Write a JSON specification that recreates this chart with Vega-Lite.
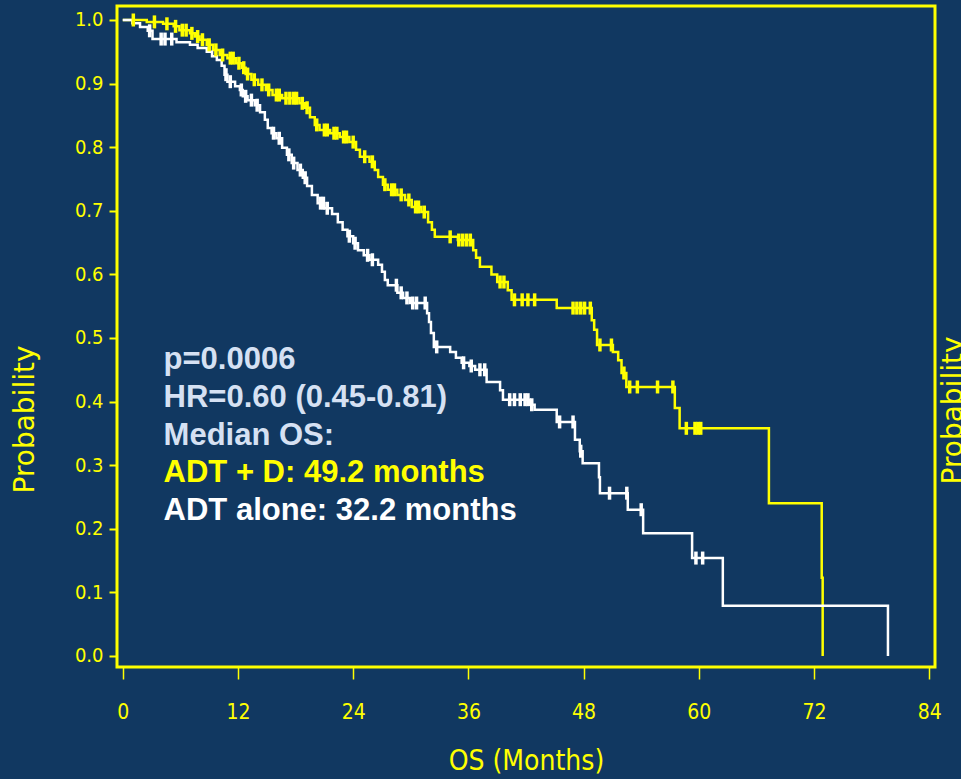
{
  "$schema": "https://vega.github.io/schema/vega-lite/v6.json",
  "width": 818,
  "height": 661,
  "autosize": {"type": "none"},
  "padding": {"left": 117, "top": 6, "right": 26, "bottom": 112},
  "background": "#113861",
  "config": {"view": {"stroke": "#ffff00", "strokeWidth": 3, "fill": "#113861"}},
  "datasets": {
    "km": [
      {"g":"ADT + D","t":0,"S":1.0,"c":0},
      {"g":"ADT + D","t":1.1,"S":1.0,"c":1},
      {"g":"ADT + D","t":2.5,"S":0.997,"c":0},
      {"g":"ADT + D","t":3.3,"S":0.997,"c":1},
      {"g":"ADT + D","t":4.2,"S":0.994,"c":0},
      {"g":"ADT + D","t":4.6,"S":0.994,"c":1},
      {"g":"ADT + D","t":5.3,"S":0.99,"c":0},
      {"g":"ADT + D","t":5.5,"S":0.99,"c":1},
      {"g":"ADT + D","t":5.9,"S":0.984,"c":0},
      {"g":"ADT + D","t":6.2,"S":0.984,"c":1},
      {"g":"ADT + D","t":6.6,"S":0.984,"c":1},
      {"g":"ADT + D","t":7.0,"S":0.979,"c":0},
      {"g":"ADT + D","t":7.2,"S":0.979,"c":1},
      {"g":"ADT + D","t":7.5,"S":0.974,"c":0},
      {"g":"ADT + D","t":7.8,"S":0.974,"c":1},
      {"g":"ADT + D","t":8.0,"S":0.969,"c":0},
      {"g":"ADT + D","t":8.3,"S":0.969,"c":1},
      {"g":"ADT + D","t":8.75,"S":0.961,"c":0},
      {"g":"ADT + D","t":9.0,"S":0.961,"c":1},
      {"g":"ADT + D","t":9.4,"S":0.953,"c":0},
      {"g":"ADT + D","t":9.7,"S":0.953,"c":1},
      {"g":"ADT + D","t":10.1,"S":0.945,"c":0},
      {"g":"ADT + D","t":10.4,"S":0.945,"c":1},
      {"g":"ADT + D","t":10.9,"S":0.94,"c":0},
      {"g":"ADT + D","t":11.2,"S":0.94,"c":1},
      {"g":"ADT + D","t":11.5,"S":0.94,"c":1},
      {"g":"ADT + D","t":11.8,"S":0.932,"c":0},
      {"g":"ADT + D","t":12.1,"S":0.932,"c":1},
      {"g":"ADT + D","t":12.4,"S":0.925,"c":0},
      {"g":"ADT + D","t":12.6,"S":0.925,"c":1},
      {"g":"ADT + D","t":12.8,"S":0.915,"c":0},
      {"g":"ADT + D","t":13.0,"S":0.915,"c":1},
      {"g":"ADT + D","t":13.4,"S":0.906,"c":0},
      {"g":"ADT + D","t":13.7,"S":0.906,"c":1},
      {"g":"ADT + D","t":14.1,"S":0.898,"c":0},
      {"g":"ADT + D","t":14.5,"S":0.898,"c":1},
      {"g":"ADT + D","t":14.9,"S":0.89,"c":0},
      {"g":"ADT + D","t":15.2,"S":0.89,"c":1},
      {"g":"ADT + D","t":15.6,"S":0.882,"c":0},
      {"g":"ADT + D","t":16.0,"S":0.882,"c":1},
      {"g":"ADT + D","t":16.3,"S":0.882,"c":1},
      {"g":"ADT + D","t":16.6,"S":0.877,"c":0},
      {"g":"ADT + D","t":17.0,"S":0.877,"c":1},
      {"g":"ADT + D","t":17.4,"S":0.877,"c":1},
      {"g":"ADT + D","t":17.8,"S":0.877,"c":1},
      {"g":"ADT + D","t":18.1,"S":0.877,"c":1},
      {"g":"ADT + D","t":18.4,"S":0.869,"c":0},
      {"g":"ADT + D","t":18.7,"S":0.869,"c":1},
      {"g":"ADT + D","t":19.0,"S":0.862,"c":0},
      {"g":"ADT + D","t":19.2,"S":0.862,"c":1},
      {"g":"ADT + D","t":19.5,"S":0.847,"c":0},
      {"g":"ADT + D","t":20.0,"S":0.835,"c":0},
      {"g":"ADT + D","t":20.2,"S":0.835,"c":1},
      {"g":"ADT + D","t":20.5,"S":0.827,"c":0},
      {"g":"ADT + D","t":21.0,"S":0.827,"c":1},
      {"g":"ADT + D","t":21.3,"S":0.827,"c":1},
      {"g":"ADT + D","t":21.6,"S":0.822,"c":0},
      {"g":"ADT + D","t":22.0,"S":0.822,"c":1},
      {"g":"ADT + D","t":22.3,"S":0.822,"c":1},
      {"g":"ADT + D","t":22.6,"S":0.816,"c":0},
      {"g":"ADT + D","t":23.0,"S":0.816,"c":1},
      {"g":"ADT + D","t":23.3,"S":0.816,"c":1},
      {"g":"ADT + D","t":23.6,"S":0.808,"c":0},
      {"g":"ADT + D","t":24.0,"S":0.808,"c":1},
      {"g":"ADT + D","t":24.3,"S":0.796,"c":0},
      {"g":"ADT + D","t":24.7,"S":0.785,"c":0},
      {"g":"ADT + D","t":25.2,"S":0.785,"c":1},
      {"g":"ADT + D","t":25.7,"S":0.777,"c":0},
      {"g":"ADT + D","t":26.0,"S":0.777,"c":1},
      {"g":"ADT + D","t":26.25,"S":0.764,"c":0},
      {"g":"ADT + D","t":26.6,"S":0.753,"c":0},
      {"g":"ADT + D","t":27.1,"S":0.741,"c":0},
      {"g":"ADT + D","t":27.3,"S":0.741,"c":1},
      {"g":"ADT + D","t":27.6,"S":0.733,"c":0},
      {"g":"ADT + D","t":28.0,"S":0.733,"c":1},
      {"g":"ADT + D","t":28.3,"S":0.733,"c":1},
      {"g":"ADT + D","t":28.6,"S":0.725,"c":0},
      {"g":"ADT + D","t":29.0,"S":0.725,"c":1},
      {"g":"ADT + D","t":29.4,"S":0.717,"c":0},
      {"g":"ADT + D","t":29.8,"S":0.717,"c":1},
      {"g":"ADT + D","t":30.1,"S":0.706,"c":0},
      {"g":"ADT + D","t":30.5,"S":0.706,"c":1},
      {"g":"ADT + D","t":30.8,"S":0.706,"c":1},
      {"g":"ADT + D","t":31.1,"S":0.698,"c":0},
      {"g":"ADT + D","t":31.4,"S":0.698,"c":1},
      {"g":"ADT + D","t":31.8,"S":0.682,"c":0},
      {"g":"ADT + D","t":32.2,"S":0.67,"c":0},
      {"g":"ADT + D","t":32.5,"S":0.659,"c":0},
      {"g":"ADT + D","t":34.1,"S":0.659,"c":1},
      {"g":"ADT + D","t":34.9,"S":0.654,"c":0},
      {"g":"ADT + D","t":35.0,"S":0.654,"c":1},
      {"g":"ADT + D","t":35.4,"S":0.654,"c":1},
      {"g":"ADT + D","t":35.8,"S":0.654,"c":1},
      {"g":"ADT + D","t":36.2,"S":0.654,"c":1},
      {"g":"ADT + D","t":36.5,"S":0.638,"c":0},
      {"g":"ADT + D","t":36.8,"S":0.626,"c":0},
      {"g":"ADT + D","t":37.2,"S":0.612,"c":0},
      {"g":"ADT + D","t":38.4,"S":0.6,"c":0},
      {"g":"ADT + D","t":39.0,"S":0.588,"c":0},
      {"g":"ADT + D","t":39.3,"S":0.588,"c":1},
      {"g":"ADT + D","t":39.7,"S":0.588,"c":1},
      {"g":"ADT + D","t":40.1,"S":0.575,"c":0},
      {"g":"ADT + D","t":40.5,"S":0.56,"c":0},
      {"g":"ADT + D","t":40.8,"S":0.56,"c":1},
      {"g":"ADT + D","t":41.6,"S":0.56,"c":1},
      {"g":"ADT + D","t":42.2,"S":0.56,"c":1},
      {"g":"ADT + D","t":42.9,"S":0.56,"c":1},
      {"g":"ADT + D","t":45.2,"S":0.547,"c":0},
      {"g":"ADT + D","t":46.9,"S":0.547,"c":1},
      {"g":"ADT + D","t":47.3,"S":0.547,"c":1},
      {"g":"ADT + D","t":47.7,"S":0.547,"c":1},
      {"g":"ADT + D","t":48.1,"S":0.547,"c":1},
      {"g":"ADT + D","t":48.7,"S":0.547,"c":1},
      {"g":"ADT + D","t":48.85,"S":0.528,"c":0},
      {"g":"ADT + D","t":49.1,"S":0.513,"c":0},
      {"g":"ADT + D","t":49.4,"S":0.489,"c":0},
      {"g":"ADT + D","t":49.7,"S":0.489,"c":1},
      {"g":"ADT + D","t":50.9,"S":0.489,"c":1},
      {"g":"ADT + D","t":51.05,"S":0.478,"c":0},
      {"g":"ADT + D","t":51.6,"S":0.465,"c":0},
      {"g":"ADT + D","t":51.95,"S":0.445,"c":0},
      {"g":"ADT + D","t":52.2,"S":0.445,"c":1},
      {"g":"ADT + D","t":52.45,"S":0.423,"c":0},
      {"g":"ADT + D","t":52.8,"S":0.423,"c":1},
      {"g":"ADT + D","t":53.6,"S":0.423,"c":1},
      {"g":"ADT + D","t":55.7,"S":0.423,"c":1},
      {"g":"ADT + D","t":57.3,"S":0.423,"c":1},
      {"g":"ADT + D","t":57.5,"S":0.39,"c":0},
      {"g":"ADT + D","t":58.0,"S":0.358,"c":0},
      {"g":"ADT + D","t":58.7,"S":0.358,"c":1},
      {"g":"ADT + D","t":59.6,"S":0.358,"c":1},
      {"g":"ADT + D","t":59.9,"S":0.358,"c":1},
      {"g":"ADT + D","t":60.2,"S":0.358,"c":1},
      {"g":"ADT + D","t":67.3,"S":0.24,"c":0},
      {"g":"ADT + D","t":72.8,"S":0.123,"c":0},
      {"g":"ADT + D","t":72.9,"S":0.0,"c":0},

      {"g":"ADT alone","t":0,"S":1.0,"c":0},
      {"g":"ADT alone","t":1.0,"S":0.995,"c":0},
      {"g":"ADT alone","t":1.8,"S":0.989,"c":0},
      {"g":"ADT alone","t":2.6,"S":0.983,"c":0},
      {"g":"ADT alone","t":2.8,"S":0.983,"c":1},
      {"g":"ADT alone","t":3.1,"S":0.97,"c":0},
      {"g":"ADT alone","t":4.0,"S":0.97,"c":1},
      {"g":"ADT alone","t":4.4,"S":0.97,"c":1},
      {"g":"ADT alone","t":5.1,"S":0.97,"c":1},
      {"g":"ADT alone","t":5.6,"S":0.965,"c":0},
      {"g":"ADT alone","t":7.0,"S":0.961,"c":0},
      {"g":"ADT alone","t":7.8,"S":0.956,"c":0},
      {"g":"ADT alone","t":8.75,"S":0.95,"c":0},
      {"g":"ADT alone","t":9.3,"S":0.943,"c":0},
      {"g":"ADT alone","t":9.8,"S":0.937,"c":0},
      {"g":"ADT alone","t":10.3,"S":0.928,"c":0},
      {"g":"ADT alone","t":10.6,"S":0.914,"c":0},
      {"g":"ADT alone","t":10.75,"S":0.914,"c":1},
      {"g":"ADT alone","t":10.9,"S":0.903,"c":0},
      {"g":"ADT alone","t":11.2,"S":0.903,"c":1},
      {"g":"ADT alone","t":11.7,"S":0.896,"c":0},
      {"g":"ADT alone","t":12.2,"S":0.89,"c":0},
      {"g":"ADT alone","t":12.35,"S":0.89,"c":1},
      {"g":"ADT alone","t":12.5,"S":0.88,"c":0},
      {"g":"ADT alone","t":12.8,"S":0.88,"c":1},
      {"g":"ADT alone","t":13.0,"S":0.874,"c":0},
      {"g":"ADT alone","t":13.4,"S":0.874,"c":1},
      {"g":"ADT alone","t":13.75,"S":0.866,"c":0},
      {"g":"ADT alone","t":14.0,"S":0.866,"c":1},
      {"g":"ADT alone","t":14.3,"S":0.855,"c":0},
      {"g":"ADT alone","t":14.8,"S":0.843,"c":0},
      {"g":"ADT alone","t":15.1,"S":0.83,"c":0},
      {"g":"ADT alone","t":15.5,"S":0.822,"c":0},
      {"g":"ADT alone","t":15.7,"S":0.822,"c":1},
      {"g":"ADT alone","t":16.0,"S":0.814,"c":0},
      {"g":"ADT alone","t":16.3,"S":0.814,"c":1},
      {"g":"ADT alone","t":16.6,"S":0.799,"c":0},
      {"g":"ADT alone","t":17.1,"S":0.788,"c":0},
      {"g":"ADT alone","t":17.3,"S":0.788,"c":1},
      {"g":"ADT alone","t":17.6,"S":0.775,"c":0},
      {"g":"ADT alone","t":17.8,"S":0.775,"c":1},
      {"g":"ADT alone","t":18.2,"S":0.764,"c":0},
      {"g":"ADT alone","t":18.5,"S":0.764,"c":1},
      {"g":"ADT alone","t":18.75,"S":0.752,"c":0},
      {"g":"ADT alone","t":19.0,"S":0.752,"c":1},
      {"g":"ADT alone","t":19.2,"S":0.739,"c":0},
      {"g":"ADT alone","t":19.7,"S":0.725,"c":0},
      {"g":"ADT alone","t":20.3,"S":0.712,"c":0},
      {"g":"ADT alone","t":20.6,"S":0.712,"c":1},
      {"g":"ADT alone","t":20.9,"S":0.712,"c":1},
      {"g":"ADT alone","t":21.0,"S":0.704,"c":0},
      {"g":"ADT alone","t":21.3,"S":0.704,"c":1},
      {"g":"ADT alone","t":21.8,"S":0.695,"c":0},
      {"g":"ADT alone","t":22.4,"S":0.682,"c":0},
      {"g":"ADT alone","t":22.9,"S":0.67,"c":0},
      {"g":"ADT alone","t":23.4,"S":0.66,"c":0},
      {"g":"ADT alone","t":23.6,"S":0.66,"c":1},
      {"g":"ADT alone","t":24.0,"S":0.649,"c":0},
      {"g":"ADT alone","t":24.2,"S":0.649,"c":1},
      {"g":"ADT alone","t":24.5,"S":0.638,"c":0},
      {"g":"ADT alone","t":25.1,"S":0.63,"c":0},
      {"g":"ADT alone","t":25.5,"S":0.63,"c":1},
      {"g":"ADT alone","t":25.7,"S":0.623,"c":0},
      {"g":"ADT alone","t":26.0,"S":0.623,"c":1},
      {"g":"ADT alone","t":26.6,"S":0.615,"c":0},
      {"g":"ADT alone","t":27.0,"S":0.604,"c":0},
      {"g":"ADT alone","t":27.3,"S":0.591,"c":0},
      {"g":"ADT alone","t":27.6,"S":0.583,"c":0},
      {"g":"ADT alone","t":28.5,"S":0.583,"c":1},
      {"g":"ADT alone","t":28.6,"S":0.571,"c":0},
      {"g":"ADT alone","t":29.0,"S":0.571,"c":1},
      {"g":"ADT alone","t":29.2,"S":0.563,"c":0},
      {"g":"ADT alone","t":29.6,"S":0.563,"c":1},
      {"g":"ADT alone","t":29.9,"S":0.555,"c":0},
      {"g":"ADT alone","t":30.2,"S":0.555,"c":1},
      {"g":"ADT alone","t":30.6,"S":0.555,"c":1},
      {"g":"ADT alone","t":31.5,"S":0.555,"c":1},
      {"g":"ADT alone","t":31.7,"S":0.539,"c":0},
      {"g":"ADT alone","t":31.9,"S":0.525,"c":0},
      {"g":"ADT alone","t":32.1,"S":0.508,"c":0},
      {"g":"ADT alone","t":32.4,"S":0.486,"c":0},
      {"g":"ADT alone","t":32.7,"S":0.486,"c":1},
      {"g":"ADT alone","t":34.1,"S":0.478,"c":0},
      {"g":"ADT alone","t":34.7,"S":0.469,"c":0},
      {"g":"ADT alone","t":35.3,"S":0.461,"c":0},
      {"g":"ADT alone","t":35.5,"S":0.461,"c":1},
      {"g":"ADT alone","t":36.1,"S":0.456,"c":0},
      {"g":"ADT alone","t":36.3,"S":0.456,"c":1},
      {"g":"ADT alone","t":36.7,"S":0.45,"c":0},
      {"g":"ADT alone","t":37.2,"S":0.45,"c":1},
      {"g":"ADT alone","t":37.7,"S":0.45,"c":1},
      {"g":"ADT alone","t":37.9,"S":0.431,"c":0},
      {"g":"ADT alone","t":39.3,"S":0.418,"c":0},
      {"g":"ADT alone","t":39.6,"S":0.403,"c":0},
      {"g":"ADT alone","t":40.3,"S":0.403,"c":1},
      {"g":"ADT alone","t":40.8,"S":0.403,"c":1},
      {"g":"ADT alone","t":41.4,"S":0.403,"c":1},
      {"g":"ADT alone","t":41.9,"S":0.403,"c":1},
      {"g":"ADT alone","t":42.2,"S":0.403,"c":1},
      {"g":"ADT alone","t":42.4,"S":0.395,"c":0},
      {"g":"ADT alone","t":42.6,"S":0.395,"c":1},
      {"g":"ADT alone","t":42.9,"S":0.387,"c":0},
      {"g":"ADT alone","t":45.2,"S":0.368,"c":0},
      {"g":"ADT alone","t":45.5,"S":0.368,"c":1},
      {"g":"ADT alone","t":46.9,"S":0.368,"c":1},
      {"g":"ADT alone","t":47.1,"S":0.34,"c":0},
      {"g":"ADT alone","t":47.6,"S":0.322,"c":0},
      {"g":"ADT alone","t":47.7,"S":0.322,"c":1},
      {"g":"ADT alone","t":47.9,"S":0.303,"c":0},
      {"g":"ADT alone","t":49.6,"S":0.281,"c":0},
      {"g":"ADT alone","t":49.7,"S":0.256,"c":0},
      {"g":"ADT alone","t":50.7,"S":0.256,"c":1},
      {"g":"ADT alone","t":52.5,"S":0.256,"c":1},
      {"g":"ADT alone","t":52.6,"S":0.23,"c":0},
      {"g":"ADT alone","t":54.0,"S":0.23,"c":1},
      {"g":"ADT alone","t":54.2,"S":0.193,"c":0},
      {"g":"ADT alone","t":59.3,"S":0.154,"c":0},
      {"g":"ADT alone","t":59.7,"S":0.154,"c":1},
      {"g":"ADT alone","t":60.4,"S":0.154,"c":1},
      {"g":"ADT alone","t":62.5,"S":0.079,"c":0},
      {"g":"ADT alone","t":79.7,"S":0.0,"c":0}
    ],
    "notes": [
      {"g":"stats","t":4.25,"S":0.4513,"label":"p=0.0006"},
      {"g":"stats","t":4.25,"S":0.3919,"label":"HR=0.60 (0.45-0.81)"},
      {"g":"stats","t":4.25,"S":0.3325,"label":"Median OS:"},
      {"g":"ADT + D","t":4.25,"S":0.2732,"label":"ADT + D: 49.2 months"},
      {"g":"ADT alone","t":4.25,"S":0.2138,"label":"ADT alone: 32.2 months"}
    ]
  },
  "encoding": {
    "x": {
      "field": "t",
      "type": "quantitative",
      "scale": {"domain": [-0.6, 84.6], "nice": false, "zero": false},
      "axis": {
        "values": [0, 12, 24, 36, 48, 60, 72, 84],
        "domain": false,
        "grid": false,
        "tickColor": "#ffff00",
        "tickSize": 12,
        "tickWidth": 1.5,
        "labelColor": "#ffff00",
        "labelFont": "Liberation Sans Narrow, DejaVu Sans Condensed, sans-serif",
        "labelFontSize": 21,
        "labelBaseline": "alphabetic",
        "labelPadding": 39,
        "labelFlush": false,
        "title": "OS (Months)",
        "titleColor": "#ffff00",
        "titleFont": "Liberation Sans Narrow, DejaVu Sans Condensed, sans-serif",
        "titleFontSize": 28,
        "titleFontWeight": "normal",
        "titleBaseline": "alphabetic",
        "titleX": 409,
        "titleY": 102
      }
    },
    "color": {
      "field": "g",
      "type": "nominal",
      "scale": {"domain": ["ADT + D", "ADT alone", "stats"], "range": ["#ffff00", "#ffffff", "#d6e1f3"]},
      "legend": null
    }
  },
  "layer": [
    {
      "data": {"name": "km"},
      "mark": {"type": "line", "interpolate": "step-after", "strokeWidth": 2.5},
      "encoding": {
        "y": {
          "field": "S",
          "type": "quantitative",
          "scale": {"domain": [-0.0173, 1.022], "nice": false, "zero": false},
          "axis": {
            "orient": "left",
            "values": [0, 0.1, 0.2, 0.3, 0.4, 0.5, 0.6, 0.7, 0.8, 0.9, 1.0],
            "format": ".1f",
            "domain": false,
            "grid": false,
            "tickColor": "#ffff00",
            "tickSize": 8,
            "tickWidth": 2,
            "labelColor": "#ffff00",
            "labelFont": "Liberation Sans Narrow, DejaVu Sans Condensed, sans-serif",
            "labelFontSize": 20,
            "labelPadding": 6,
            "labelFlush": false,
            "title": "Probability",
            "titleColor": "#ffff00",
            "titleFont": "DejaVu Sans",
            "titleFontSize": 28,
            "titleFontWeight": "normal",
            "titleAngle": 270,
            "titleAlign": "center",
            "titleBaseline": "alphabetic",
            "titleX": -84,
            "titleY": 413
          }
        }
      }
    },
    {
      "data": {"name": "km"},
      "transform": [{"filter": "datum.c == 1"}],
      "mark": {"type": "tick", "orient": "vertical", "size": 13, "thickness": 3.5, "opacity": 1},
      "encoding": {
        "y": {
          "field": "S",
          "type": "quantitative",
          "axis": {
            "orient": "right",
            "labels": false,
            "ticks": false,
            "domain": false,
            "grid": false,
            "title": "Probability",
            "titleColor": "#ffff00",
            "titleFont": "DejaVu Sans",
            "titleFontSize": 28,
            "titleFontWeight": "normal",
            "titleAngle": 270,
            "titleAlign": "center",
            "titleBaseline": "alphabetic",
            "titleX": 26,
            "titleY": 404
          }
        }
      }
    },
    {
      "data": {"name": "notes"},
      "mark": {"type": "text", "align": "left", "baseline": "alphabetic", "font": "Liberation Sans", "fontWeight": "bold", "fontSize": 31},
      "encoding": {
        "y": {"field": "S", "type": "quantitative", "axis": null},
        "text": {"field": "label"}
      }
    }
  ],
  "resolve": {"axis": {"y": "independent"}}
}
